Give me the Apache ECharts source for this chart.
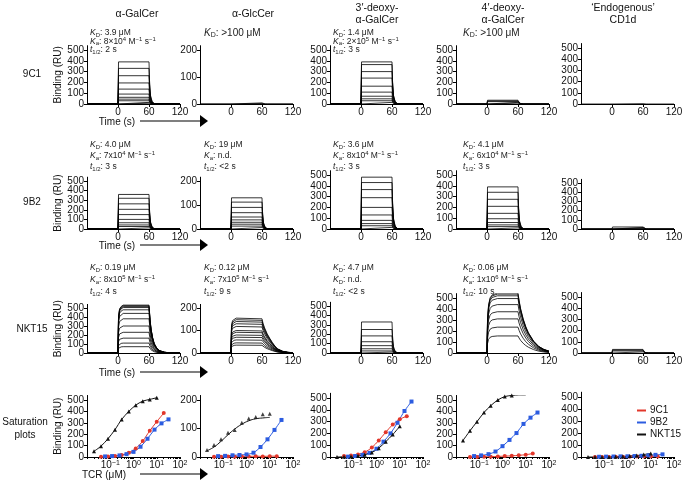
<!DOCTYPE html>
<html><head><meta charset="utf-8">
<script src="https://cdn.jsdelivr.net/npm/echarts@6/dist/echarts.min.js"></script>
<style>html,body{margin:0;padding:0;background:#fff}#c{width:685px;height:483px}</style>
</head><body><div id="c"></div>
<script>
// ================= DATA =================
const columnTitles = ['α-GalCer', 'α-GlcCer', '3′-deoxy-\nα-GalCer', '4′-deoxy-\nα-GalCer', '‘Endogenous’\nCD1d'];
const rowLabels = ['9C1', '9B2', 'NKT15', 'Saturation\nplots'];
const timeTicks = [0, 60, 120];
const bindingTicks = [0, 100, 200, 300, 400, 500];
const bindingLabelsA = [0, 200, 400];
const bindingLabelsB = [100, 300, 500];
const glcTicks = [0, 100, 200];
const concTickExps = [-1, 0, 1, 2];

// normalised sensorgram shapes (time s, fraction of plateau)
const fastT = [-60, 0, 1, 60, 61, 63, 66, 70, 120];
const fastF = [0, 0, 1, 1, 0.55, 0.2, 0.06, 0.01, 0];
const nktGalT = [-60, 0, 1, 3, 6, 10, 60, 62, 64, 67, 70, 75, 80, 90, 100, 120];
const nktGalF = [0, 0, 0.75, 0.92, 0.97, 1, 1, 0.7, 0.5, 0.32, 0.2, 0.1, 0.05, 0.015, 0.005, 0];
const nktGlcT = [-60, 0, 1, 3, 6, 10, 60, 62, 65, 70, 75, 80, 85, 90, 100, 110, 120];
const nktGlcF = [0, 0, 0.8, 0.93, 0.97, 1, 0.98, 0.85, 0.72, 0.55, 0.42, 0.3, 0.2, 0.12, 0.05, 0.02, 0.01];
const nkt4dT = [-60, 0, 1, 3, 6, 10, 20, 60, 62, 65, 70, 75, 80, 90, 100, 110, 120];
const nkt4dF = [0, 0, 0.55, 0.8, 0.92, 0.97, 1, 1, 0.88, 0.74, 0.57, 0.44, 0.34, 0.2, 0.11, 0.06, 0.03];

// plateau levels (RU) of each injection, per ligand column
const lev9C1 = [
  [390, 330, 262, 195, 138, 92, 62, 45, 30, 15, 7],
  [4, 2],
  [390, 365, 300, 240, 165, 110, 72, 48, 30, 15],
  [35, 28, 22, 15, 8],
  [3]
];
const lev9B2 = [
  [360, 320, 262, 205, 150, 100, 65, 42, 26, 12],
  [130, 112, 90, 68, 50, 38, 28, 20, 12, 6],
  [480, 430, 365, 290, 200, 130, 80, 50, 30, 15],
  [390, 340, 275, 210, 145, 95, 60, 38, 22, 10],
  [22, 16, 10, 5]
];
const levNKT15 = [
  [532, 525, 515, 505, 480, 440, 380, 300, 230, 165, 110, 70],
  [155, 148, 140, 130, 118, 100, 92, 80, 70, 58, 45, 35],
  [330, 250, 182, 120, 78, 45, 22, 10],
  [545, 535, 520, 495, 440, 375, 310, 235, 155],
  [32, 25, 18, 10]
];

// saturation plots: TCR concentration (µM) and equilibrium binding (RU)
const conc9C1 = [0.04, 0.08, 0.16, 0.31, 0.63, 1.25, 2.5, 5, 10, 20];
const conc9B2 = [0.06, 0.12, 0.25, 0.5, 1, 2, 4, 8, 16, 32];
const concNKT15 = [0.02, 0.04, 0.08, 0.16, 0.31, 0.63, 1.25, 2.5, 5, 10];
const sat9C1 = [
  [2, 4, 8, 18, 38, 75, 140, 230, 310, 385],
  [1, 1, 2, 1, 2, 2, 3, 2, 3, 3],
  [8, 12, 22, 40, 80, 140, 210, 275, 320, 345],
  [0, 0, 2, 3, 5, 8, 10, 15, 20, 30],
  [0, 1, 1, 2, 2, 3, 4, 5, 5, 5]
];
const sat9B2 = [
  [5, 8, 14, 25, 45, 90, 160, 240, 295, 330],
  [3, 4, 6, 7, 9, 15, 35, 62, 95, 130],
  [3, 8, 18, 35, 70, 130, 200, 290, 390, 470],
  [8, 14, 25, 48, 95, 150, 210, 290, 345, 390],
  [2, 3, 4, 5, 6, 8, 10, 14, 18, 22]
];
const satNKT15 = [
  [50, 95, 160, 240, 330, 400, 455, 490, 505, 520],
  [25, 42, 62, 85, 95, 120, 135, 140, 150, 152],
  [0, 2, 5, 10, 20, 38, 75, 130, 190, 260],
  [145, 230, 310, 390, 450, 500, 530, 540, 545, 545],
  [0, 0, 1, 1, 2, 4, 8, 12, 20, 30]
];
const fitNKT15Glc = [22, 35, 55, 78, 98, 115, 127, 134, 137, 139];

// ================= LAYOUT / STYLE =================
const FONT = '"Liberation Sans", Arial, Helvetica, sans-serif';
const colLeft = [87, 200, 330, 456, 581];
const gridW = 93;
const rowZero = [104, 229, 353, 457];
const panelH500 = [
  [54, 54, 54, 54, 56],
  [48, 48, 54, 54, 46],
  [45, 45, 47, 55, 56],
  [57, 57, 59, 57, 60]
];
const Y_OVER = 540;
const RED = '#e2372b', BLUE = '#2c5ce0', BLACK = '#111';

const shapeT = { fast: fastT, nktGal: nktGalT, nktGlc: nktGlcT, nkt4d: nkt4dT };
const shapeF = { fast: fastF, nktGal: nktGalF, nktGlc: nktGlcF, nkt4d: nkt4dF };
const panelShape = [
  ['fast', 'fast', 'fast', 'fast', 'fast'],
  ['fast', 'fast', 'fast', 'fast', 'fast'],
  ['nktGal', 'nktGlc', 'fast', 'nkt4d', 'fast']
];
const kinLevels = [lev9C1, lev9B2, levNKT15];

const grids = [], xAxes = [], yAxes = [], extraY = [], series = [];
const minorLog = [];
for (let e = -2; e < 2; e++) for (let m = 1; m <= 9; m++) minorLog.push(Math.log10(m * Math.pow(10, e)));
minorLog.push(2);

const axisLineS = { show: true, onZero: false, lineStyle: { color: '#000', width: 1 } };
const tickS = { show: true, length: 3, lineStyle: { color: '#000', width: 1 } };
const labelS = { color: '#111', fontSize: 10, fontFamily: FONT, margin: 3, showMinLabel: true, showMaxLabel: true, hideOverlap: false };

for (let r = 0; r < 4; r++) {
  for (let c = 0; c < 5; c++) {
    const gi = r * 5 + c;
    const h = panelH500[r][c] * Y_OVER / 500;
    grids.push({ left: colLeft[c], top: rowZero[r] - h, width: gridW, height: h, outerBoundsMode: 'none', containLabel: false });
    const isGlc = c === 1;
    const ticks = isGlc ? glcTicks : bindingTicks;
    const yMax = isGlc ? 200 * Y_OVER / 500 : Y_OVER;
    yAxes.push({
      gridIndex: gi, type: 'value', min: 0, max: yMax,
      axisLine: axisLineS, splitLine: { show: false },
      axisTick: Object.assign({}, tickS, { customValues: ticks }),
      axisLabel: Object.assign({}, labelS, { customValues: isGlc ? glcTicks : bindingLabelsA }),
      name: c === 0 ? 'Binding (RU)' : '', nameLocation: 'middle', nameGap: 22,
      nameTextStyle: { fontSize: 10, fontFamily: FONT, color: '#111' }
    });
    if (!isGlc) {
      // companion axis carrying the alternate tick labels (100, 300, 500)
      extraY.push({
        gridIndex: gi, type: 'value', min: 0, max: yMax, position: 'left', offset: 0,
        axisLine: { show: false }, axisTick: { show: false }, splitLine: { show: false },
        axisLabel: Object.assign({}, labelS, { customValues: bindingLabelsB })
      });
    }
    if (r < 3) {
      xAxes.push({
        gridIndex: gi, type: 'value', min: -60, max: 120,
        axisLine: axisLineS, splitLine: { show: false },
        axisTick: Object.assign({}, tickS, { customValues: timeTicks }),
        axisLabel: Object.assign({}, labelS, { customValues: timeTicks })
      });
      const sh = panelShape[r][c];
      const T = shapeT[sh], F = shapeF[sh];
      kinLevels[r][c].forEach(level => {
        series.push({
          type: 'line', xAxisIndex: gi, yAxisIndex: gi, silent: true, showSymbol: false, symbol: 'none',
          lineStyle: { color: '#000', width: 0.8 },
          data: T.map((t, i) => [t, level * F[i]])
        });
      });
    } else {
      xAxes.push({
        gridIndex: gi, type: 'value', min: -2, max: 2,
        axisLine: axisLineS, splitLine: { show: false },
        axisTick: Object.assign({}, tickS, { customValues: minorLog, length: 2 }),
        axisLabel: Object.assign({}, labelS, {
          customValues: concTickExps,
          formatter: v => '10{p|' + (v < 0 ? '−' + Math.abs(v) : v) + '}',
          rich: { p: { fontSize: 7, fontFamily: FONT, color: '#111', verticalAlign: 'top', lineHeight: 7 } }
        })
      });
      const sets = [
        ['9C1', conc9C1, sat9C1[c], RED, 'circle'],
        ['9B2', conc9B2, sat9B2[c], BLUE, 'rect'],
        ['NKT15', concNKT15, satNKT15[c], BLACK, 'triangle']
      ];
      sets.forEach(([name, conc, vals, col, sym]) => {
        const pts = conc.map((x, i) => [Math.log10(x), vals[i]]);
        if (name === 'NKT15' && c === 1) {
          series.push({ name, type: 'line', xAxisIndex: gi, yAxisIndex: gi, silent: true, showSymbol: false, symbol: 'none', smooth: true,
            lineStyle: { color: col, width: 1 }, itemStyle: { color: col },
            data: conc.map((x, i) => [Math.log10(x), fitNKT15Glc[i]]) });
          series.push({ name, type: 'scatter', xAxisIndex: gi, yAxisIndex: gi, silent: true, symbol: sym, symbolSize: 4,
            itemStyle: { color: col }, data: pts });
        } else {
          series.push({ name, type: 'line', xAxisIndex: gi, yAxisIndex: gi, silent: true, smooth: 0.3,
            symbol: sym, symbolSize: 4, showSymbol: true,
            lineStyle: { color: col, width: 1 }, itemStyle: { color: col }, data: pts });
        }
      });
    }
  }
}

// ---------- text graphics ----------
const graphics = [];
const titleX = [137, 253, 377, 503, 623];
columnTitles.forEach((t, i) => graphics.push({
  type: 'text', style: { text: t, x: titleX[i], y: 14, align: 'center', verticalAlign: 'middle',
    fontSize: 10.5, lineHeight: 12, fontFamily: FONT, fill: '#111' }
}));
const rowLabelY = [74, 202, 329, 429];
rowLabels.forEach((t, i) => graphics.push({
  type: 'text', style: { text: t, x: i === 3 ? 25 : 32, y: rowLabelY[i], align: 'center', verticalAlign: 'middle',
    fontSize: 10, lineHeight: 13, fontFamily: FONT, fill: '#111' }
}));
// axis captions + arrows
const arrowY = [121, 245, 372, 474];
arrowY.forEach((y, i) => {
  graphics.push({ type: 'text', style: { text: i === 3 ? 'TCR (μM)' : 'Time (s)', x: i === 3 ? 104 : 117, y: y + 1,
    align: 'center', verticalAlign: 'middle', fontSize: 10, fontFamily: FONT, fill: '#111' } });
  graphics.push({ type: 'line', shape: { x1: 140, y1: y, x2: 202, y2: y }, style: { stroke: '#000', lineWidth: 1.2 } });
  graphics.push({ type: 'polygon', shape: { points: [[200, y - 6], [208, y], [200, y + 6]] }, style: { fill: '#000' } });
});

// kinetic annotations
const RICH = (fs) => ({
  t: { fontSize: fs, lineHeight: fs + 2, fontFamily: FONT, fill: '#222' },
  i: { fontSize: fs, lineHeight: fs + 2, fontFamily: FONT, fontStyle: 'italic', fill: '#222' },
  s: { fontSize: fs * 0.7, lineHeight: fs * 0.7, fontFamily: FONT, fill: '#222', verticalAlign: 'bottom' },
  p: { fontSize: fs * 0.7, lineHeight: fs * 0.7, fontFamily: FONT, fill: '#222', verticalAlign: 'top' }
});
const KD = v => `{i|K}{s|D}{t|: ${v}}`;
const KA = (m, x, e) => `{i|K}{s|a}{t|: ${m}${x}10}{p|${e}}{t| M}{p|−1}{t| s}{p|−1}`;
const TH = v => `{i|t}{s|1/2}{t|: ${v}}`;
const annotations = [
  [0, 0, [KD('3.9 μM'), KA('8', '×', '4'), TH('2 s')], 8.5],
  [0, 1, [KD('>100 μM')], 10],
  [0, 2, [KD('1.4 μM'), KA('2', '×', '5'), TH('3 s')], 8.5],
  [0, 3, [KD('>100 μM')], 10],
  [1, 0, [KD('4.0 μM'), KA('7', 'x', '4'), TH('3 s')], 8.5],
  [1, 1, [KD('19 μM'), '{i|K}{s|a}{t|: n.d.}', TH('<2 s')], 8.5],
  [1, 2, [KD('3.6 μM'), KA('8', 'x', '4'), TH('3 s')], 8.5],
  [1, 3, [KD('4.1 μM'), KA('6', 'x', '4'), TH('3 s')], 8.5],
  [2, 0, [KD('0.19 μM'), KA('8', 'x', '5'), TH('4 s')], 8.5],
  [2, 1, [KD('0.12 μM'), KA('7', 'x', '5'), TH('9 s')], 8.5],
  [2, 2, [KD('4.7 μM'), KD('n.d.'), TH('<2 s')], 8.5],
  [2, 3, [KD('0.06 μM'), KA('1', 'x', '6'), TH('10 s')], 8.5]
];
const annY = [[33, 41.5, 50], [145, 156, 167], [268, 280, 292]];
const annX = [90, 204, 333, 463];
annotations.forEach(([r, c, lines, fs]) => {
  lines.forEach((txt, k) => graphics.push({
    type: 'text', style: { text: txt, x: annX[c], y: annY[r][k], align: 'left', verticalAlign: 'middle', rich: RICH(fs) }
  }));
});

const option = {
  animation: false,
  backgroundColor: '#fff',
  grid: grids, xAxis: xAxes, yAxis: yAxes.concat(extraY), series,
  legend: {
    data: ['9C1', '9B2', 'NKT15'], orient: 'vertical', left: 637, top: 405, padding: 0,
    itemWidth: 9, itemHeight: 2, itemGap: 1, icon: 'rect', selectedMode: false,
    textStyle: { fontSize: 10, fontFamily: FONT, color: '#111', lineHeight: 11, padding: [0, 0, 0, -1] }
  },
  graphic: graphics
};
const chart = echarts.init(document.getElementById('c'), null, { renderer: 'canvas' });
chart.setOption(option);
</script></body></html>
